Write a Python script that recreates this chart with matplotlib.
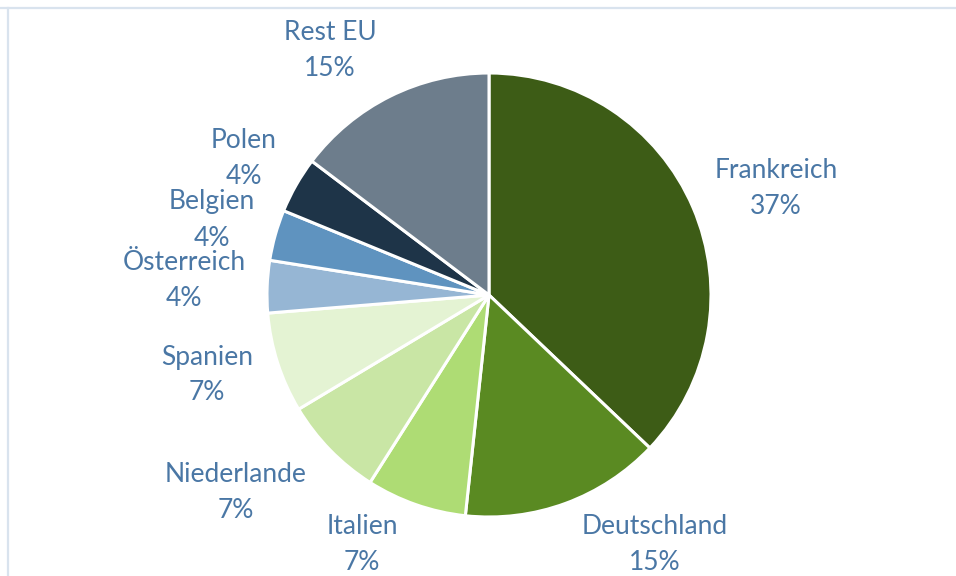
import matplotlib.pyplot as plt
from matplotlib.lines import Line2D

# Shares by country (percent)
countries = ["Frankreich", "Deutschland", "Italien", "Niederlande", "Spanien",
             "Österreich", "Belgien", "Polen", "Rest EU"]
shares = [37.1, 14.6, 7.3, 7.4, 7.3, 3.8, 3.7, 4.1, 14.7]
colors = ["#3d5c16", "#5a8a22", "#aedc74", "#c9e6a5", "#e4f3d3",
          "#96b6d4", "#5f93bf", "#1e3448", "#6d7d8c"]

# label centre offsets from pie centre, pixels
label_pos = [(287, 107), (166, -250), (-127, -249), (-253, -198), (-282, -80),
             (-305, 14), (-277, 75), (-245, 137), (-159, 245)]

plt.rcParams['font.family'] = ['Lato', 'DejaVu Sans']

fig = plt.figure(figsize=(9.56, 5.76), dpi=100)
ax = fig.add_axes([0, 0, 1, 1])
ax.pie(shares, colors=colors, startangle=90, counterclock=False, radius=222,
       wedgeprops=dict(edgecolor="white", linewidth=2.2))
ax.set_xlim(-489, 467)
ax.set_ylim(-281, 295)
ax.set_aspect("equal")
ax.axis("off")

for name, val, (dx, dy) in zip(countries, shares, label_pos):
    ax.text(dx, dy, f"{name}\n{round(val)}%", ha="center", va="center",
            fontsize=19, color="#4a77a5", linespacing=1.55)

# chart frame (top and left edges visible)
fig.add_artist(Line2D([0, 1], [1 - 7.5 / 576] * 2, color="#d9e3ee", lw=1.6,
                      transform=fig.transFigure))
fig.add_artist(Line2D([8 / 956] * 2, [0, 1 - 7.5 / 576], color="#d9e3ee", lw=1.6,
                      transform=fig.transFigure))

fig.savefig("out.png", dpi=100)
